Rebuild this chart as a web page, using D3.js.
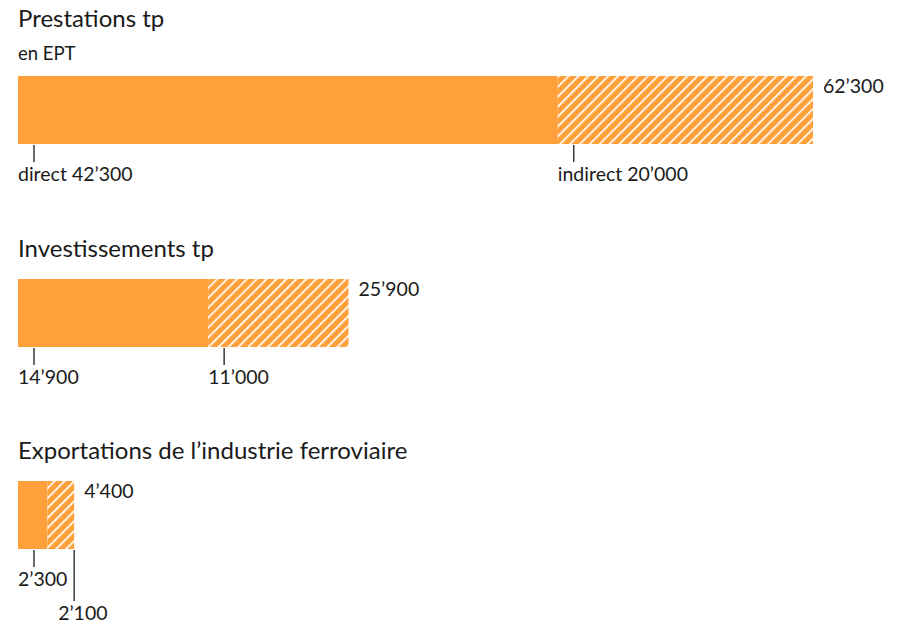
<!DOCTYPE html>
<html>
<head>
<meta charset="utf-8">
<script src="https://cdn.jsdelivr.net/npm/d3@7"></script>
<style>
  body { margin: 0; background: #fff; }
  svg text { font-family: Lato, "Noto Sans", sans-serif; fill: #1a1a1a; }
</style>
</head>
<body>
<div id="chart"></div>
<script>
// data
var titles = ["Prestations tp", "Investissements tp", "Exportations de l\u2019industrie ferroviaire"];
var directValues = [42300, 14900, 2300];
var indirectValues = [20000, 11000, 2100];
var totalValues = [62300, 25900, 4400];
var segmentNames = ["direct", "indirect"];
var unitLabel = "en EPT";

var attrs = {
  width: 906,
  height: 624,
  left: 18,
  barWidth: 795,
  barHeight: 68,
  barTops: [76, 279, 481],
  orange: "#ffa03a",
  titleSize: 24,
  labelSize: 19.5
};

var locale = d3.formatLocale({ decimal: ".", thousands: "\u2019", grouping: [3], currency: ["", ""] });
var fmt = locale.format(",");

var svg = d3.select("#chart").append("svg")
  .attr("width", attrs.width)
  .attr("height", attrs.height);

// hatch pattern (white diagonal stripes on orange)
var step = 7;
var pat = svg.append("defs").append("pattern")
  .attr("id", "hatch")
  .attr("patternUnits", "userSpaceOnUse")
  .attr("width", step)
  .attr("height", step)
  .attr("patternTransform", "rotate(45)");
pat.append("rect").attr("width", step).attr("height", step).attr("fill", attrs.orange);
pat.append("rect").attr("x", 0).attr("width", 1.7).attr("height", step).attr("fill", "#fff");

var x = d3.scaleLinear()
  .domain([0, d3.max(totalValues)])
  .range([attrs.left, attrs.left + attrs.barWidth]);

titles.forEach(function (title, i) {
  var g = svg.append("g");
  var top = attrs.barTops[i];
  var bottom = top + attrs.barHeight;

  g.append("text")
    .attr("x", attrs.left)
    .attr("y", top - (i === 0 ? 49 : 22))
    .attr("font-size", attrs.titleSize)
    .text(title);

  if (i === 0) {
    g.append("text")
      .attr("x", attrs.left)
      .attr("y", top - 16)
      .attr("font-size", 18.5)
      .text(unitLabel);
  }

  var x0 = x(0), x1 = x(directValues[i]), x2 = x(directValues[i] + indirectValues[i]);

  g.append("rect")
    .attr("x", x0).attr("y", top)
    .attr("width", x1 - x0).attr("height", attrs.barHeight)
    .attr("fill", attrs.orange);

  g.append("rect")
    .attr("x", x1).attr("y", top)
    .attr("width", x2 - x1).attr("height", attrs.barHeight)
    .attr("fill", "url(#hatch)");

  g.append("text")
    .attr("x", x(totalValues[i]) + 10)
    .attr("y", top + 17)
    .attr("font-size", attrs.labelSize)
    .text(fmt(totalValues[i]));

  // segment annotations
  var segs = [
    { start: x0, end: x1, value: directValues[i], name: segmentNames[0] },
    { start: x1, end: x2, value: indirectValues[i], name: segmentNames[1] }
  ];
  var prevEnd = -Infinity;
  segs.forEach(function (s, j) {
    var label = (i === 0 ? s.name + " " : "") + fmt(s.value);
    var tx = s.start + 16;
    var drop = 0;
    if (s.start < prevEnd + 6) {
      tx = s.end;
      drop = 34;
    }
    g.append("line")
      .attr("x1", tx).attr("x2", tx)
      .attr("y1", bottom + 1).attr("y2", bottom + 18 + drop)
      .attr("stroke", "#1a1a1a")
      .attr("stroke-width", 1.3);
    var t = g.append("text")
      .attr("x", tx - 16)
      .attr("y", bottom + 37 + drop)
      .attr("font-size", attrs.labelSize)
      .text(label);
    prevEnd = tx - 16 + t.node().getComputedTextLength();
  });
});
</script>
</body>
</html>
